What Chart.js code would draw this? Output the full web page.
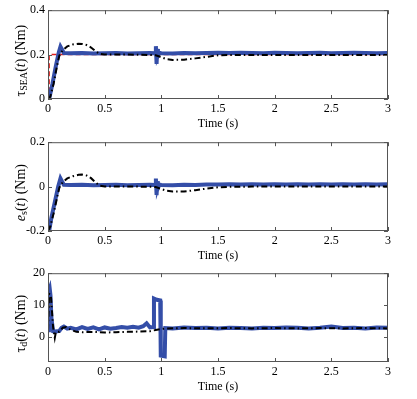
<!DOCTYPE html>
<html>
<head>
<meta charset="utf-8">
<script src="https://cdn.jsdelivr.net/npm/chart.js@4.4.1/dist/chart.umd.min.js"></script>
<style>
  body { margin: 0; background: #fff; }
  .panel { position: absolute; left: 0; width: 417px; height: 131px; }
</style>
</head>
<body>
<div class="panel" style="top:0px"><canvas id="c1" width="417" height="131"></canvas></div>
<div class="panel" style="top:132px"><canvas id="c2" width="417" height="131"></canvas></div>
<div class="panel" style="top:263px"><canvas id="c3" width="417" height="131"></canvas></div>
<script>
// Ticks
const timeTicks = [0, 0.5, 1, 1.5, 2, 2.5, 3];
const seaTicks = [0, 0.2, 0.4];
const errTicks = [-0.2, 0, 0.2];
const distTicks = [0, 10, 20];

// Panel 1 : tau_SEA
const refT = [0, 0.01, 0.01, 3];
const refSea = [0, 0, 0.2, 0.2];

const blueT1 = [0, 0.01, 0.04, 0.07, 0.095, 0.11, 0.125, 0.14, 0.2, 0.3, 0.4, 0.5, 0.6, 0.7, 0.8, 0.9, 0.945, 0.952, 0.958, 0.964, 0.97, 0.98, 1.0, 1.1, 1.2, 1.3, 1.4, 1.5, 1.6, 1.7, 1.8, 1.9, 2.0, 2.1, 2.2, 2.3, 2.4, 2.5, 2.6, 2.7, 2.8, 2.9, 3.0];
const blueSea = [0, 0, 0.07, 0.15, 0.21, 0.236, 0.222, 0.207, 0.206, 0.207, 0.205, 0.206, 0.207, 0.205, 0.206, 0.207, 0.206, 0.238, 0.158, 0.225, 0.195, 0.208, 0.206, 0.205, 0.207, 0.206, 0.207, 0.208, 0.207, 0.208, 0.207, 0.206, 0.208, 0.207, 0.206, 0.207, 0.208, 0.206, 0.207, 0.208, 0.207, 0.206, 0.207];

const blackT1 = [0, 0.02, 0.05, 0.08, 0.1, 0.13, 0.17, 0.22, 0.27, 0.3, 0.34, 0.38, 0.42, 0.46, 0.5, 0.6, 0.7, 0.8, 0.9, 0.95, 0.99, 1.05, 1.1, 1.2, 1.3, 1.4, 1.5, 1.6, 1.8, 2.0, 2.2, 2.4, 2.6, 2.8, 3.0];
const blackSea = [0, 0.01, 0.07, 0.15, 0.195, 0.22, 0.237, 0.246, 0.249, 0.248, 0.243, 0.232, 0.215, 0.203, 0.2, 0.2, 0.2, 0.199, 0.198, 0.197, 0.19, 0.179, 0.176, 0.177, 0.183, 0.19, 0.197, 0.198, 0.198, 0.198, 0.198, 0.198, 0.198, 0.198, 0.198];

// Panel 2 : e_s
const blueT2 = [0, 0.01, 0.03, 0.06, 0.09, 0.11, 0.125, 0.14, 0.2, 0.3, 0.4, 0.5, 0.6, 0.7, 0.8, 0.9, 0.945, 0.952, 0.958, 0.964, 0.97, 0.98, 1.0, 1.1, 1.2, 1.3, 1.4, 1.5, 1.6, 1.7, 1.8, 1.9, 2.0, 2.1, 2.2, 2.3, 2.4, 2.5, 2.6, 2.7, 2.8, 2.9, 3.0];
const blueErr = [-0.2, -0.2, -0.14, -0.07, 0, 0.037, 0.022, 0.008, 0.007, 0.008, 0.006, 0.007, 0.008, 0.006, 0.007, 0.008, 0.007, 0.036, -0.038, 0.024, -0.006, 0.009, 0.007, 0.006, 0.008, 0.007, 0.009, 0.010, 0.011, 0.010, 0.011, 0.010, 0.011, 0.010, 0.011, 0.010, 0.011, 0.010, 0.011, 0.010, 0.011, 0.010, 0.011];

const blackT2 = [0, 0.02, 0.05, 0.08, 0.1, 0.13, 0.17, 0.22, 0.27, 0.3, 0.34, 0.38, 0.42, 0.46, 0.5, 0.6, 0.7, 0.8, 0.9, 0.95, 0.99, 1.05, 1.1, 1.2, 1.3, 1.4, 1.5, 1.6, 1.8, 2.0, 2.2, 2.4, 2.6, 2.8, 3.0];
const blackErr = [-0.2, -0.18, -0.12, -0.05, -0.005, 0.02, 0.037, 0.047, 0.053, 0.054, 0.05, 0.038, 0.018, 0.004, 0.001, 0.001, 0.001, 0, -0.001, -0.002, -0.009, -0.019, -0.022, -0.022, -0.016, -0.009, -0.003, -0.001, 0, 0, 0, 0, 0, 0, 0];

// Panel 3 : tau_d
const blueT3 = [0, 0.008, 0.015, 0.022, 0.03, 0.045, 0.06, 0.08, 0.1, 0.12, 0.14, 0.17, 0.2, 0.25, 0.3, 0.35, 0.4, 0.45, 0.5, 0.55, 0.6, 0.65, 0.7, 0.75, 0.8, 0.84, 0.87, 0.9, 0.93, 0.935, 0.96, 0.99, 0.995, 1.03, 1.035, 1.1, 1.2, 1.3, 1.4, 1.5, 1.6, 1.7, 1.8, 1.9, 2.0, 2.1, 2.2, 2.3, 2.4, 2.5, 2.6, 2.7, 2.8, 2.9, 3.0];
const blueDist = [2, 14.5, 15.2, 13, 6, 1.7, 1.6, 1.7, 1.8, 2.8, 3.2, 2.5, 2.8, 2.3, 3.0, 2.4, 2.9, 2.3, 2.9, 2.5, 2.7, 3.0, 2.8, 3.1, 2.8, 3.3, 4.2, 2.9, 3.0, 12, 11.6, 11.4, -6, -6.2, 2.7, 2.6, 2.9, 2.7, 2.8, 2.6, 2.8, 2.7, 2.6, 2.8, 2.7, 2.9, 2.8, 2.6, 2.8, 3.2, 2.7, 2.8, 2.6, 2.9, 2.8];

const blackT3 = [0, 0.01, 0.025, 0.035, 0.045, 0.06, 0.07, 0.1, 0.13, 0.16, 0.2, 0.25, 0.3, 0.4, 0.5, 0.6, 0.7, 0.8, 0.9, 0.95, 1.0, 1.05, 1.2, 1.4, 1.6, 1.8, 2.0, 2.2, 2.4, 2.6, 2.8, 3.0];
const blackDist = [2, 13.5, 13.2, 8, 3, -0.4, 1.5, 1.5, 2.8, 3.0, 2.2, 1.5, 1.4, 1.5, 1.3, 1.4, 1.5, 1.6, 1.7, 2.1, 2.4, 2.6, 2.7, 2.6, 2.7, 2.6, 2.7, 2.6, 2.7, 2.6, 2.7, 2.6];

const BLUE = 'rgb(52, 78, 168)';
const FONT = "'Liberation Serif', 'Times New Roman', serif";
Chart.defaults.font.family = FONT;
Chart.defaults.font.size = 12;
Chart.defaults.color = '#000';

function pts(t, v) {
  return t.map((x, i) => ({ x: x, y: v[i] }));
}

// cadre + graduations vers l'intérieur (style MATLAB)
const framePlugin = {
  id: 'frame',
  afterDatasetsDraw(chart) {
    const { ctx, chartArea: a, scales } = chart;
    const len = 4;
    ctx.save();
    ctx.strokeStyle = '#555';
    ctx.lineWidth = 1;
    ctx.strokeRect(a.left + 0.5, a.top + 0.5, a.right - a.left - 1, a.bottom - a.top - 1);
    ctx.beginPath();
    scales.x.ticks.forEach(tk => {
      const px = Math.round(scales.x.getPixelForValue(tk.value)) + 0.5;
      ctx.moveTo(px, a.bottom); ctx.lineTo(px, a.bottom - len);
      ctx.moveTo(px, a.top); ctx.lineTo(px, a.top + len);
    });
    scales.y.ticks.forEach(tk => {
      const py = Math.round(scales.y.getPixelForValue(tk.value)) + 0.5;
      ctx.moveTo(a.left, py); ctx.lineTo(a.left + len, py);
      ctx.moveTo(a.right, py); ctx.lineTo(a.right - len, py);
    });
    ctx.stroke();
    ctx.restore();
  }
};

// titre de l'axe y avec indice
const yLabelPlugin = {
  id: 'yLabel',
  afterDraw(chart, args, opts) {
    const { ctx, chartArea } = chart;
    const size = 14;
    const fontFor = p => (p.it ? 'italic ' : '') + (p.sub ? Math.round(size * 0.7) : size) + 'px ' + FONT;
    ctx.save();
    ctx.translate(opts.x, (chartArea.top + chartArea.bottom) / 2 + opts.dy);
    ctx.rotate(-Math.PI / 2);
    let total = 0;
    opts.parts.forEach(p => { ctx.font = fontFor(p); total += ctx.measureText(p.t).width; });
    let x = -total / 2;
    ctx.fillStyle = '#000';
    ctx.textBaseline = 'middle';
    opts.parts.forEach(p => {
      ctx.font = fontFor(p);
      ctx.fillText(p.t, x, p.sub ? 3.5 : 0);
      x += ctx.measureText(p.t).width;
    });
    ctx.restore();
  }
};

function makeChart(id, datasets, yMin, yMax, yTicks, labelParts) {
  const ctx = document.getElementById(id).getContext('2d');
  return new Chart(ctx, {
    type: 'line',
    data: { datasets: datasets },
    options: {
      responsive: false,
      animation: false,
      parsing: false,
      layout: { padding: { top: 10, right: 29, bottom: 0, left: 0 } },
      elements: { point: { radius: 0 }, line: { tension: 0 } },
      plugins: {
        legend: { display: false },
        tooltip: { enabled: false },
        yLabel: { x: 21, dy: 6, parts: labelParts }
      },
      scales: {
        x: {
          type: 'linear',
          min: 0, max: 3,
          grid: { display: false, drawTicks: false },
          border: { display: false },
          afterBuildTicks: s => { s.ticks = timeTicks.map(v => ({ value: v })); },
          afterFit: s => { s.height = 32; },
          ticks: { autoSkip: false, maxRotation: 0, padding: 3, callback: v => String(v) },
          title: { display: true, text: 'Time (s)', padding: 0, font: { size: 12 } }
        },
        y: {
          type: 'linear',
          min: yMin, max: yMax,
          grid: { display: false, drawTicks: false },
          border: { display: false },
          afterBuildTicks: s => { s.ticks = yTicks.map(v => ({ value: v })); },
          afterFit: s => { s.width = 48; },
          ticks: { padding: 3, callback: v => String(v) }
        }
      }
    },
    plugins: [framePlugin, yLabelPlugin]
  });
}

const dashDot = [6, 3, 1.5, 3];

makeChart('c1', [
  { data: pts(blackT1, blackSea), borderColor: '#000', borderWidth: 2, borderDash: dashDot },
  { data: pts(blueT1, blueSea), borderColor: BLUE, borderWidth: 4 },
  { data: pts(refT, refSea), borderColor: '#e0201c', borderWidth: 1.5, borderDash: [5, 3] }
], 0, 0.4, seaTicks, [{ t: 'τ' }, { t: 'SEA', sub: true }, { t: '(' }, { t: 't', it: true }, { t: ') (Nm)' }]);

makeChart('c2', [
  { data: pts(blackT2, blackErr), borderColor: '#000', borderWidth: 2, borderDash: dashDot },
  { data: pts(blueT2, blueErr), borderColor: BLUE, borderWidth: 4 }
], -0.2, 0.2, errTicks, [{ t: 'e', it: true }, { t: 's', sub: true }, { t: '(' }, { t: 't', it: true }, { t: ') (Nm)' }]);

makeChart('c3', [
  { data: pts(blackT3, blackDist), borderColor: '#000', borderWidth: 2, borderDash: dashDot },
  { data: pts(blueT3, blueDist), borderColor: BLUE, borderWidth: 4 }
], -8, 20, distTicks, [{ t: 'τ' }, { t: 'd', sub: true }, { t: '(' }, { t: 't', it: true }, { t: ') (Nm)' }]);
</script>
</body>
</html>
